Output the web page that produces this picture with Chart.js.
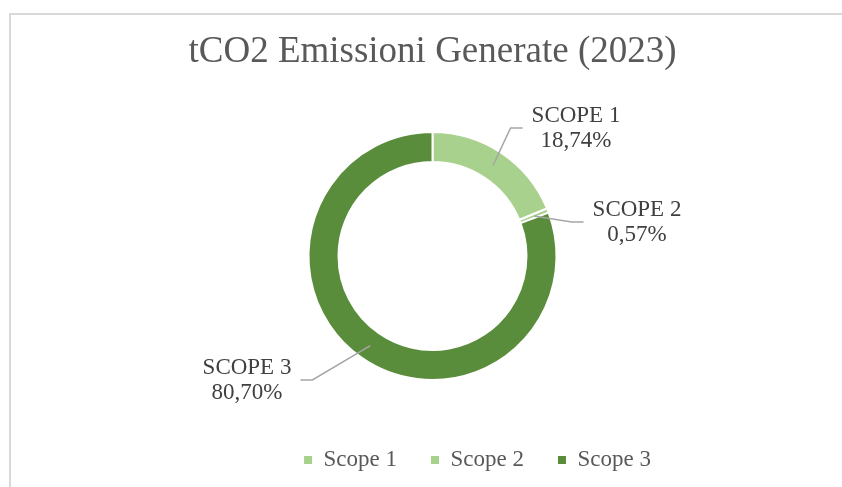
<!DOCTYPE html>
<html>
<head>
<meta charset="utf-8">
<script src="https://cdn.jsdelivr.net/npm/chart.js@4/dist/chart.umd.min.js"></script>
<style>
    html, body { margin: 0; padding: 0; background: #fff; }
    #frame {
        position: absolute; left: 9px; top: 13px; width: 860px; height: 500px;
        border-left: 2px solid #d9d9d9; border-top: 2px solid #d9d9d9;
    }
    #graficoEmissioni { position: absolute; left: 0; top: 0; }
</style>
</head>
<body>
<div id="frame"></div>
<canvas id="graficoEmissioni" width="842" height="487"></canvas>
<script>
const categorie = ['Scope 1', 'Scope 2', 'Scope 3'];
const percentuali = [18.74, 0.57, 80.70];
const colori = ['#A9D18E', '#A9D18E', '#5A8D3B'];

const fontSerif = "'Liberation Serif', 'Times New Roman', serif";

// posizione delle etichette rispetto al centro della ciambella
const posEtichette = [
    { dx: 143.5, dy: -128 },
    { dx: 204.5, dy: -34 },
    { dx: -185.5, dy: 124 }
];

const etichettePlugin = {
    id: 'etichette',
    afterDatasetsDraw(chart) {
        const c = chart.ctx;
        const meta = chart.getDatasetMeta(0);
        c.save();
        c.font = '23px ' + fontSerif;
        c.textAlign = 'center';
        c.textBaseline = 'middle';
        meta.data.forEach((arc, i) => {
            const p = arc.getProps(['x', 'y', 'startAngle', 'endAngle', 'innerRadius', 'outerRadius'], true);
            const mid = (p.startAngle + p.endAngle) / 2;
            const r = (p.innerRadius + p.outerRadius) / 2;
            const x0 = p.x + r * Math.cos(mid);
            const y0 = p.y + r * Math.sin(mid);
            const lx = p.x + posEtichette[i].dx;
            const ly = p.y + posEtichette[i].dy;
            const righe = [
                categorie[i].toUpperCase(),
                percentuali[i].toFixed(2).replace('.', ',') + '%'
            ];
            const w = Math.max(...righe.map(t => c.measureText(t).width));
            const destra = posEtichette[i].dx > 0;
            const xEnd = destra ? lx - w / 2 - 9 : lx + w / 2 + 9;
            const xElb = destra ? xEnd - 12 : xEnd + 12;

            c.strokeStyle = '#a6a6a6';
            c.lineWidth = 1.5;
            c.beginPath();
            c.moveTo(x0, y0);
            c.lineTo(xElb, ly);
            c.lineTo(xEnd, ly);
            c.stroke();

            c.fillStyle = '#404040';
            c.fillText(righe[0], lx, ly - 12.5);
            c.fillText(righe[1], lx, ly + 13);
        });
        c.restore();
    }
};

const spostaLegenda = {
    id: 'spostaLegenda',
    afterLayout(chart) {
        chart.legend.left += 45;
        chart.legend.right += 45;
    }
};

new Chart(document.getElementById('graficoEmissioni'), {
    type: 'doughnut',
    data: {
        labels: categorie,
        datasets: [{
            data: percentuali,
            backgroundColor: colori,
            borderColor: '#ffffff',
            borderWidth: 2,
            radius: 124,
            cutout: '75.8%'
        }]
    },
    options: {
        responsive: false,
        animation: false,
        layout: {
            padding: { left: 23, right: 0, top: 0, bottom: 5.5 }
        },
        plugins: {
            title: {
                display: true,
                text: 'tCO2 Emissioni Generate (2023)',
                color: '#595959',
                font: { family: fontSerif, size: 37, weight: 'normal', lineHeight: 1.2 },
                padding: { top: 29.8, bottom: 23.3 }
            },
            legend: {
                position: 'bottom',
                labels: {
                    color: '#595959',
                    font: { family: fontSerif, size: 23 },
                    boxWidth: 8,
                    boxHeight: 8,
                    padding: 34,
                    generateLabels(chart) {
                        const base = Chart.overrides.doughnut.plugins.legend.labels.generateLabels(chart);
                        return base.map(item => ({ ...item, lineWidth: 0, strokeStyle: item.fillStyle }));
                    }
                }
            },
            tooltip: { enabled: false }
        }
    },
    plugins: [etichettePlugin, spostaLegenda]
});
</script>
</body>
</html>
